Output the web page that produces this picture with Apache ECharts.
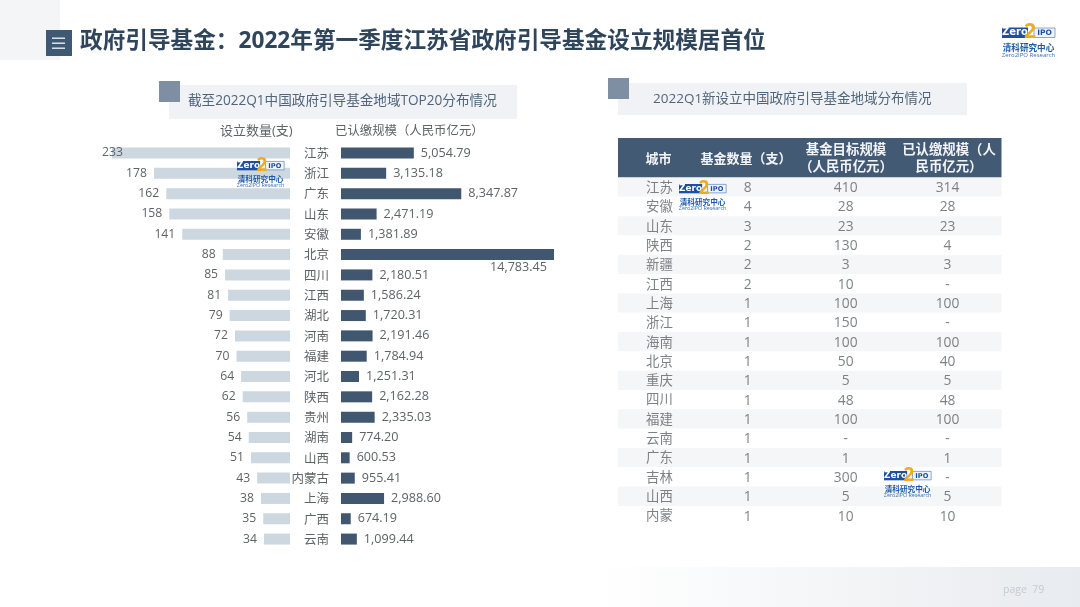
<!DOCTYPE html>
<html>
<head>
<meta charset="utf-8">
<style>html,body{margin:0;padding:0;background:#fff}#c{width:1080px;height:607px}</style>
<script src="https://cdn.jsdelivr.net/npm/echarts@6/dist/echarts.min.js"></script>
</head>
<body>
<div id="c"></div>
<script>
// ---- data ----
var provinces = ['江苏','浙江','广东','山东','安徽','北京','四川','江西','湖北','河南','福建','河北','陕西','贵州','湖南','山西','内蒙古','上海','广西','云南'];
var fundCounts = [233,178,162,158,141,88,85,81,79,72,70,64,62,56,54,51,43,38,35,34];
var paidScale = [5054.79,3135.18,8347.87,2471.19,1381.89,14783.45,2180.51,1586.24,1720.31,2191.46,1784.94,1251.31,2162.28,2335.03,774.20,600.53,955.41,2988.60,674.19,1099.44];

var tableCities = ['江苏','安徽','山东','陕西','新疆','江西','上海','浙江','海南','北京','重庆','四川','福建','云南','广东','吉林','山西','内蒙'];
var tableCounts = ['8','4','3','2','2','2','1','1','1','1','1','1','1','1','1','1','1','1'];
var tableTargets = ['410','28','23','130','3','10','100','150','100','50','5','48','100','-','1','300','5','10'];
var tablePaid = ['314','28','23','4','3','-','100','-','100','40','5','48','100','-','1','-','5','10'];
var tableColumns = ['城市','基金数量\uFF08支\uFF09','基金目标规模\n\uFF08人民币亿元\uFF09','已认缴规模\uFF08人\n民币亿元\uFF09'];

var titleText = '政府引导基金\uFF1A2022年第一季度江苏省政府引导基金设立规模居首位';
var leftPanelTitle = '截至2022Q1中国政府引导基金地域TOP20分布情况';
var rightPanelTitle = '2022Q1新设立中国政府引导基金地域分布情况';
var leftColumnTitle = '设立数量(支)';
var rightColumnTitle = '已认缴规模\uFF08人民币亿元\uFF09';
var pageText = 'page  79';

// ---- style ----
var FONT = '"Open Sans","Noto Sans CJK SC",sans-serif';
var CJK = '"Noto Sans CJK SC",sans-serif';
var TEXT = '#5f6366';
var DARK = '#41576f';
var LIGHT = '#cdd7e0';
var INK = '#2f455c';

function fmt(v){ return v.toLocaleString('en-US',{minimumFractionDigits:2,maximumFractionDigits:2}); }

function txt(x,y,text,size,color,extra){
  var s = {x:x,y:y,text:text,fontSize:size,fill:color,fontFamily:FONT,textVerticalAlign:'middle',textAlign:'left'};
  for (var k in (extra||{})) s[k]=extra[k];
  return {type:'text',z:5,style:s,silent:true};
}
function box(x,y,w,h,fill,z){
  return {type:'rect',z:z===undefined?0:z,silent:true,shape:{x:x,y:y,width:w,height:h},style:{fill:fill}};
}
function logo(x,y,s){
  var B='#1f4f9f', O='#f2ab1d';
  function t(dx,dy,text,size,fill,weight,family,align){
    return {type:'text',z:100,silent:true,style:{x:x+dx*s,y:y+dy*s,text:text,fontSize:size*s,fill:fill,fontWeight:weight||'normal',fontFamily:family||FONT,textAlign:align||'left',textVerticalAlign:'middle'}};
  }
  return [
    {type:'rect',z:99,silent:true,shape:{x:x,y:y+3*s,width:26*s,height:10.5*s},style:{fill:B}},
    {type:'rect',z:99,silent:true,shape:{x:x+32*s,y:y+3.5*s,width:21*s,height:9.5*s},style:{fill:'#eef3fa',stroke:'#6f93c9',lineWidth:0.8}},
    t(13,8.4,'Zero',10,'#ffffff','bold','"DejaVu Sans",sans-serif','center'),
    t(42.5,8.4,'IPO',7.5,B,'bold','"DejaVu Sans",sans-serif','center'),
    t(28,8,'2',21,O,'bold','"Open Sans",sans-serif','center'),
    t(26.5,23.5,'清科研究中心',8.6,'#1d5aa8','bold',CJK,'center'),
    t(26.5,31,'Zero2IPO Research',6,'#3a6db5','normal',FONT,'center')
  ];
}

var graphics = [
  box(0,0,60,60,'#f4f5f7'),
  box(46,30,26,26,'#3f5873',2),
  box(52,37.5,13,1.4,'#e8edf2',3), box(52,42.5,13,1.4,'#e8edf2',3), box(52,47.5,13,1.4,'#e8edf2',3),
  txt(80,41.5,titleText,22.65,INK,{fontWeight:'bold'}),
  box(169,85,348,34,'#f0f2f6'),
  box(159,81,21,21,'#7f8fa3',2),
  txt(188,101.5,leftPanelTitle,13.6,'#50657a'),
  box(618,83,349,32,'#f0f2f6'),
  box(608,78,21,21,'#7f8fa3',2),
  txt(653,99.5,rightPanelTitle,13.5,'#50657a'),
  txt(220,131.5,leftColumnTitle,13,TEXT),
  txt(335,131.5,rightColumnTitle,12.4,TEXT),
  box(618,138,383.5,39.5,'#435a75'),
  txt(658.5,159,tableColumns[0],13,'#f2f4f7',{fontWeight:'bold',textAlign:'center'}),
  txt(746,159,tableColumns[1],13,'#f2f4f7',{fontWeight:'bold',textAlign:'center'}),
  txt(846,159,tableColumns[2],13.4,'#f2f4f7',{fontWeight:'bold',textAlign:'center',lineHeight:16.7}),
  txt(949,159,tableColumns[3],13.4,'#f2f4f7',{fontWeight:'bold',textAlign:'center',lineHeight:16.7}),
  {type:'rect',z:0,silent:true,shape:{x:600,y:567,width:480,height:40},style:{fill:new echarts.graphic.LinearGradient(0,0,1,0,[{offset:0,color:'#ffffff'},{offset:1,color:'#e8ebef'}])}},
  txt(1003,590.5,pageText,10.5,'#c6cad0')
].concat(logo(1002,24.5,1),logo(237,158.3,0.89),logo(679,181.3,0.89),logo(884,468.3,0.89));

var rowIdx = tableCities.map(function(_,i){return i;});
function cellSeries(colIndex, values, dx, size){
  return {
    type:'scatter', xAxisIndex:2, yAxisIndex:2, symbolSize:1, z:3,
    itemStyle:{color:'transparent'},
    data: rowIdx.map(function(i){ return [colIndex,i,values[i]]; }),
    encode:{x:0,y:1},
    label:{show:true,position:'inside',offset:[dx,1],fontSize:size,color:TEXT,fontFamily:FONT,
      formatter:function(p){return p.value[2];}},
    silent:true
  };
}

var countData = fundCounts.map(function(v,i){
  return i===0 ? {value:v,label:{offset:[18,0]}} : v;
});
var paidData = paidScale.map(function(v){
  return v>14000 ? {value:v,label:{offset:[-71,13]}} : v;
});

var option = {
  animation:false,
  backgroundColor:'#ffffff',
  graphic:{elements:graphics},
  grid:[
    {left:112,top:142.84,width:178,height:406.4},
    {left:341,top:142.84,width:213,height:406.4},
    {left:618,top:177.5,width:383.5,height:347.76}
  ],
  xAxis:[
    {gridIndex:0,type:'value',inverse:true,min:0,max:233,show:false},
    {gridIndex:1,type:'value',min:0,max:14783.45,show:false},
    {gridIndex:2,type:'category',data:[0,1,2,3],show:false}
  ],
  yAxis:[
    {gridIndex:0,type:'category',inverse:true,data:provinces,show:false},
    {gridIndex:1,type:'category',inverse:true,data:provinces,
      axisLine:{show:false},axisTick:{show:false},
      axisLabel:{margin:12,fontSize:12.5,color:TEXT,fontFamily:CJK}},
    {gridIndex:2,type:'category',inverse:true,data:tableCities,
      axisLine:{show:false},axisTick:{show:false},axisLabel:{show:false},splitLine:{show:false},
      splitArea:{show:true,areaStyle:{color:['#f5f6f8','#ffffff']}}}
  ],
  series:[
    {type:'bar',xAxisIndex:0,yAxisIndex:0,barWidth:11,data:countData,silent:true,
      itemStyle:{color:LIGHT},
      label:{show:true,position:'left',distance:7,fontSize:12.2,color:TEXT,fontFamily:FONT}},
    {type:'bar',xAxisIndex:1,yAxisIndex:1,barWidth:11,data:paidData,silent:true,
      itemStyle:{color:DARK},
      label:{show:true,position:'right',distance:7,fontSize:12.6,color:TEXT,fontFamily:FONT,
        formatter:function(p){return fmt(p.value);}}},
    cellSeries(0,tableCities,-6.5,13.4),
    cellSeries(1,tableCounts,-14,13.8),
    cellSeries(2,tableTargets,-12,13.8),
    cellSeries(3,tablePaid,-6,13.8)
  ]
};
echarts.init(document.getElementById('c'),null,{renderer:'canvas'}).setOption(option);
</script>
</body>
</html>
